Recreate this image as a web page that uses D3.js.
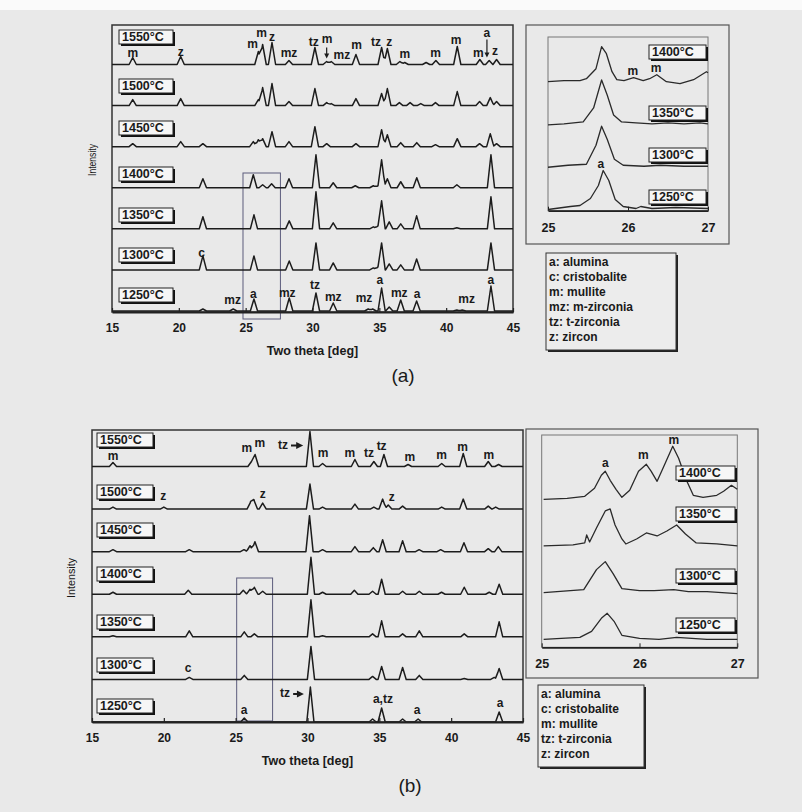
<!DOCTYPE html>
<html>
<head>
<meta charset="utf-8">
<script src="https://cdn.jsdelivr.net/npm/d3@7"></script>
<style>
  body { margin: 0; background: #e9e9e9; }
  text { font-family: "Liberation Sans", Arial, sans-serif; fill: #1a1a1a; }
</style>
</head>
<body>
<script>
//Temperatures, top to bottom
var temps = ["1550°C", "1500°C", "1450°C", "1400°C", "1350°C", "1300°C", "1250°C"];
var insetTemps = ["1400°C", "1350°C", "1300°C", "1250°C"];
var xTicks = [15, 20, 25, 30, 35, 40, 45];
var insetTicks = [25, 26, 27];
var legendA = ["a: alumina", "c: cristobalite", "m: mullite", "mz: m-zirconia", "tz: t-zirconia", "z: zircon"];
var legendB = ["a: alumina", "c: cristobalite", "m: mullite", "tz: t-zirconia", "z: zircon"];

//(a) peaks: [two theta, intensity]
var a1550 = [[16.55,7],[20.14,8],[25.95,13],[26.27,20],[26.97,22],[28.24,4],[30.18,17],[31.06,3],[31.4,3],[33.25,10],[35.17,17],[35.6,16],[36.54,3],[36.9,2],[38.5,2],[39.23,4],[40.83,18],[42.52,5],[43.22,4],[43.77,5]];
var a1500 = [[16.55,6],[20.14,7],[25.95,6],[26.27,18],[26.97,22],[28.24,4],[30.18,17],[31.06,3],[31.4,2],[33.25,7],[35.17,12],[35.6,17],[36.5,3],[37.3,3],[38.1,2],[39.2,3],[40.83,14],[42.5,4],[43.3,8],[43.77,4]];
var a1450 = [[16.55,3],[20.14,5],[21.8,3],[25.57,5],[25.95,7],[26.27,8],[26.97,15],[28.24,5],[30.18,20],[31.06,3],[33.25,3],[35.17,17],[35.6,12],[36.6,4],[37.8,4],[39.2,2],[40.83,8],[42.5,3],[43.3,13],[43.77,3]];
var a1400 = [[21.8,9],[25.57,13],[26.27,3],[26.94,4],[28.24,9],[30.26,33],[31.55,5],[33.2,2],[34.55,2],[34.9,2],[35.17,28],[35.6,9],[36.6,6],[37.8,10],[40.8,3],[43.35,33]];
var a1350 = [[21.8,12],[25.62,14],[28.26,8],[30.26,37],[31.55,6],[34.55,2],[34.9,3],[35.17,28],[35.74,7],[36.6,5],[37.79,13],[40.8,1],[43.35,32]];
var a1300 = [[21.8,14],[25.62,14],[28.26,9],[30.26,27],[31.55,7],[34.55,2],[34.9,3],[35.17,27],[35.74,6],[36.6,5],[37.79,11],[43.35,27]];
var a1250 = [[21.8,2],[24.07,2],[25.62,12],[28.26,13],[30.26,18],[31.55,8],[34.17,2],[34.5,2],[35.17,23],[35.74,4],[36.6,11],[37.79,10],[40.8,1],[41.2,1],[43.35,25]];
var peaksA = [a1550, a1500, a1450, a1400, a1350, a1300, a1250];

//(b) peaks
var b1550 = [[16.46,4],[26.1,5],[26.35,12],[30.17,35],[31.05,3],[33.3,7],[34.62,5],[35.32,12],[37.0,2],[39.34,3],[40.84,13],[42.58,5],[43.3,2]];
var b1500 = [[16.46,2],[20.0,2],[26.04,7],[26.27,9],[26.88,6],[30.17,25],[31.05,2],[33.3,5],[34.62,2],[35.23,10],[35.62,4],[36.62,3],[39.34,2],[40.84,10],[42.58,3],[43.1,2]];
var b1450 = [[16.46,2],[21.77,2],[25.58,2],[26.0,6],[26.34,10],[30.14,36],[31.05,2],[33.3,5],[34.58,4],[35.23,12],[36.62,11],[37.77,2],[39.27,2],[40.89,9],[42.58,3],[43.28,5]];
var b1400 = [[16.46,2],[21.7,4],[25.53,4],[26.0,5],[26.3,7],[26.88,3],[30.24,37],[31.05,2],[33.26,4],[34.53,3],[35.16,15],[36.62,3],[37.78,3],[39.33,2],[40.91,7],[42.65,2],[43.34,10]];
var b1350 = [[16.46,1],[21.77,6],[25.6,5],[26.3,3],[30.24,37],[31.05,1],[34.53,3],[35.16,16],[36.62,3],[37.78,6],[40.91,3],[43.34,15]];
var b1300 = [[21.77,2],[25.6,4],[30.24,33],[34.53,3],[35.16,13],[36.62,12],[37.78,4],[40.91,1],[43.0,2],[43.34,11]];
var b1250 = [[25.6,4],[30.2,35],[34.53,3],[35.16,14],[36.62,3],[37.7,3],[43.34,10]];
var peaksB = [b1550, b1500, b1450, b1400, b1350, b1300, b1250];

//peak labels: [two theta, text, height of text]
var labA = {
  "1550°C": [[16.55,"m",8],[20.14,"z",9],[25.52,"m",17],[26.2,"m",28],[26.97,"z",24],[28.24,"mz",8],[30.1,"tz",19],[31.1,"m",22],[32.2,"mz",6],[33.3,"m",16],[34.75,"tz",19],[35.75,"z",19],[36.9,"m",7],[39.2,"m",8],[40.75,"m",21],[42.4,"m",8],[43.05,"a",28],[43.65,"z",10]],
  "1300°C": [[21.71,"c",13]],
  "1250°C": [[24.03,"mz",7],[25.57,"a",13],[28.11,"mz",14],[30.18,"tz",22],[31.55,"mz",10],[33.85,"mz",9],[35.04,"a",27],[36.49,"mz",14],[37.83,"a",13],[41.53,"mz",8],[43.35,"a",27]]
};
var labB = {
  "1550°C": [[16.46,"m",7],[25.77,"m",15],[26.69,"m",20],[28.3,"tz",18],[31.08,"m",10],[32.95,"m",10],[34.28,"tz",10],[35.16,"tz",17],[37.13,"m",6],[39.34,"m",8],[40.8,"m",16],[42.63,"m",8]],
  "1500°C": [[19.96,"z",9],[26.88,"z",11],[35.86,"z",8]],
  "1300°C": [[21.68,"c",7]],
  "1250°C": [[25.58,"a",8],[28.43,"tz",25],[35.25,"a,tz",19],[37.62,"a",8],[43.4,"a",15]]
};
//arrows: [row, two theta, from, to]
var downArrowsA = [["1550°C", 31.06, 17, 6], ["1550°C", 43.05, 25, 7]];
var rightArrowsB = [["1550°C", 28.85, 29.7, 21], ["1250°C", 29.0, 29.75, 28]];

//insets: [two theta, intensity]
var ia1400 = [[25,0],[25.2,1],[25.4,1],[25.48,3],[25.6,13],[25.67,35],[25.73,28],[25.8,10],[25.86,2],[25.95,1],[26.07,4],[26.19,1],[26.27,3],[26.36,7],[26.48,0],[26.65,-2],[26.82,2],[26.92,7],[26.98,10],[27,9]];
var ia1350 = [[25,-1],[25.2,0],[25.44,2],[25.57,16],[25.67,44],[25.74,29],[25.82,9],[25.92,2],[26.1,1],[26.3,0],[26.5,1],[26.7,0],[26.9,1],[27,0]];
var ia1300 = [[25,-1],[25.25,1],[25.48,2],[25.6,21],[25.67,40],[25.74,27],[25.83,7],[25.94,1],[26.2,0],[26.4,1],[26.7,0],[27,0]];
var ia1250 = [[25,-1],[25.28,2],[25.4,3],[25.53,10],[25.63,23],[25.69,38],[25.76,28],[25.84,9],[25.94,2],[26.1,0],[26.16,2],[26.3,0],[26.6,1],[27,0]];
var insetA = [ia1400, ia1350, ia1300, ia1250];
var ib1400 = [[25.02,0],[25.26,1],[25.44,3],[25.54,11],[25.61,24],[25.65,28],[25.7,19],[25.76,10],[25.82,2],[25.9,9],[25.99,28],[26.07,35],[26.12,28],[26.18,18],[26.24,31],[26.34,53],[26.4,41],[26.48,19],[26.55,4],[26.65,2],[26.79,4],[26.86,8],[26.94,14],[27,10]];
var ib1350 = [[25.02,0],[25.32,1],[25.44,3],[25.46,11],[25.49,4],[25.56,18],[25.65,35],[25.7,37],[25.75,21],[25.82,7],[25.86,2],[25.97,7],[26.07,13],[26.18,10],[26.28,15],[26.38,21],[26.47,12],[26.58,3],[26.79,2],[27,0]];
var ib1300 = [[25.02,0],[25.43,3],[25.56,23],[25.65,31],[25.73,19],[25.82,4],[26.0,2],[26.15,2],[26.35,3],[26.5,1],[26.69,1],[27,-1]];
var ib1250 = [[25.02,0],[25.2,1],[25.39,2],[25.51,8],[25.61,21],[25.67,26],[25.74,18],[25.82,4],[26.0,1],[26.2,0],[26.38,2],[26.69,0],[27,0]];
var insetB = [ib1400, ib1350, ib1300, ib1250];
var insetLabA = [["1400°C",26.06,"m",7],["1400°C",26.35,"m",10],["1250°C",25.66,"a",41]];
var insetLabB = [["1400°C",25.65,"a",32],["1400°C",26.04,"m",40],["1400°C",26.35,"m",55]];

//layout
var W = 802, H = 812;
var svg = d3.select("body").append("svg").attr("width", W).attr("height", H);
svg.append("rect").attr("width", W).attr("height", 10).attr("fill", "#fafafa");

//turn a peak list into points (sum of triangles)
function profile(peaks, hw) {
  var xs = [15, 45];
  peaks.forEach(function (p) {
    xs.push(p[0] - hw, p[0], p[0] + hw);
  });
  xs = xs.filter(function (x) { return x >= 15 && x <= 45; }).sort(d3.ascending);
  return xs.map(function (x) {
    return [x, d3.sum(peaks, function (p) {
      return Math.max(0, p[1] * (1 - Math.abs(x - p[0]) / hw));
    })];
  });
}

function tempBox(g, x, y, w, h, label) {
  g.append("rect").attr("x", x + 2).attr("y", y + 2).attr("width", w).attr("height", h).attr("fill", "#111");
  g.append("rect").attr("x", x).attr("y", y).attr("width", w).attr("height", h)
    .attr("fill", "#f6f6f6").attr("stroke", "#222").attr("stroke-width", 1);
  g.append("text").attr("x", x + 3).attr("y", y + h - 3)
    .attr("font-size", "12.5px").attr("font-weight", "bold").text(label);
}

function mainPanel(cfg) {
  var x = d3.scaleLinear().domain([15, 45]).range(cfg.xr);
  var row = d3.scalePoint().domain(temps).range(cfg.rows);
  var g = svg.append("g");

  g.append("rect").attr("x", cfg.xr[0]).attr("y", cfg.top)
    .attr("width", cfg.xr[1] - cfg.xr[0]).attr("height", cfg.bottom - cfg.top)
    .attr("fill", "none").attr("stroke", "#333").attr("stroke-width", 1.5);

  //zoom window
  g.append("rect").attr("x", x(cfg.zoom[0])).attr("y", cfg.zoomY[0])
    .attr("width", x(cfg.zoom[1]) - x(cfg.zoom[0])).attr("height", cfg.zoomY[1] - cfg.zoomY[0])
    .attr("fill", "none").attr("stroke", "#5c5c7c").attr("stroke-width", 1);

  temps.forEach(function (t, i) {
    var base = row(t);
    var line = d3.line()
      .x(function (d) { return x(d[0]); })
      .y(function (d) { return base - d[1]; });
    g.append("path").datum(profile(cfg.peaks[i], cfg.hw)).attr("d", line)
      .attr("fill", "none").attr("stroke", "#1c1c1c").attr("stroke-width", 1.5)
      .attr("stroke-linejoin", "round");
    tempBox(g, cfg.boxX, cfg.boxTop[i], cfg.boxW, 14, t);
    (cfg.labels[t] || []).forEach(function (l) {
      g.append("text").attr("x", x(l[0])).attr("y", base - l[2])
        .attr("text-anchor", "middle").attr("font-size", "12px").attr("font-weight", "bold")
        .text(l[1]);
    });
  });

  cfg.down.forEach(function (a) {
    var base = row(a[0]), ax = x(a[1]);
    g.append("line").attr("x1", ax).attr("x2", ax).attr("y1", base - a[2]).attr("y2", base - a[3] - 4)
      .attr("stroke", "#1c1c1c").attr("stroke-width", 1.2);
    g.append("path").attr("d", "M" + (ax - 2.5) + "," + (base - a[3] - 5) + "L" + (ax + 2.5) + "," + (base - a[3] - 5) + "L" + ax + "," + (base - a[3]) + "Z")
      .attr("fill", "#1c1c1c");
  });
  cfg.right.forEach(function (a) {
    var base = row(a[0]), y = base - a[3];
    g.append("line").attr("x1", x(a[1])).attr("x2", x(a[2]) - 5).attr("y1", y).attr("y2", y)
      .attr("stroke", "#1c1c1c").attr("stroke-width", 2);
    g.append("path").attr("d", "M" + (x(a[2]) - 7) + "," + (y - 3.5) + "L" + x(a[2]) + "," + y + "L" + (x(a[2]) - 7) + "," + (y + 3.5) + "Z")
      .attr("fill", "#1c1c1c");
  });

  var axis = g.append("g").attr("transform", "translate(0," + cfg.bottom + ")")
    .call(d3.axisBottom(x).tickValues(xTicks).tickFormat(d3.format("d")).tickSize(-4).tickSizeOuter(0).tickPadding(11));
  axis.select(".domain").attr("stroke", "#222").attr("stroke-width", 1.8);
  axis.selectAll(".tick line").attr("stroke", "#222").attr("stroke-width", 1.2);
  axis.selectAll("text").attr("font-size", "12px").attr("font-weight", "bold")
    .attr("font-family", "Liberation Sans, Arial, sans-serif").attr("fill", "#1a1a1a");

  g.append("text").attr("x", (cfg.xr[0] + cfg.xr[1]) / 2).attr("y", cfg.bottom + 43)
    .attr("text-anchor", "middle").attr("font-size", "12.5px").attr("font-weight", "bold")
    .text("Two theta [deg]");
  g.append("text").attr("transform", "translate(" + cfg.ylab[0] + "," + cfg.ylab[1] + ") rotate(-90)")
    .attr("text-anchor", "middle").attr("font-size", "11px")
    .attr("textLength", cfg.ylab[2]).attr("lengthAdjust", "spacingAndGlyphs").text("Intensity");
  g.append("text").attr("x", cfg.tag[0]).attr("y", cfg.tag[1]).attr("text-anchor", "middle")
    .attr("font-size", "19px").text(cfg.tag[2]);
}

function insetPanel(cfg) {
  var x = d3.scaleLinear().domain([25, 27]).range(cfg.xr);
  var row = d3.scalePoint().domain(insetTemps).range(cfg.rows);
  var g = svg.append("g");
  g.append("rect").attr("x", cfg.outer[0]).attr("y", cfg.outer[1])
    .attr("width", cfg.outer[2] - cfg.outer[0]).attr("height", cfg.outer[3] - cfg.outer[1])
    .attr("fill", "none").attr("stroke", "#555").attr("stroke-width", 1.2);
  g.append("rect").attr("x", cfg.xr[0]).attr("y", cfg.top)
    .attr("width", cfg.xr[1] - cfg.xr[0]).attr("height", cfg.bottom - cfg.top)
    .attr("fill", "none").attr("stroke", "#777").attr("stroke-width", 1);

  insetTemps.forEach(function (t, i) {
    var base = row(t);
    var line = d3.line()
      .x(function (d) { return x(d[0]); })
      .y(function (d) { return base - d[1]; });
    g.append("path").datum(cfg.data[i]).attr("d", line)
      .attr("fill", "none").attr("stroke", "#2a2a2a").attr("stroke-width", 1.3)
      .attr("stroke-linejoin", "round");
    tempBox(g, cfg.boxX, cfg.boxTop[i], cfg.boxW, 14, t);
  });
  cfg.labels.forEach(function (l) {
    g.append("text").attr("x", x(l[1])).attr("y", row(l[0]) - l[3])
      .attr("text-anchor", "middle").attr("font-size", "12px").attr("font-weight", "bold").text(l[2]);
  });

  var axis = g.append("g").attr("transform", "translate(0," + cfg.bottom + ")")
    .call(d3.axisBottom(x).tickValues(insetTicks).tickFormat(d3.format("d")).tickSize(-4).tickSizeOuter(0).tickPadding(12));
  axis.select(".domain").attr("stroke", "#222").attr("stroke-width", 1.8);
  axis.selectAll(".tick line").attr("stroke", "#222");
  axis.selectAll("text").attr("font-size", "12.5px").attr("font-weight", "bold")
    .attr("font-family", "Liberation Sans, Arial, sans-serif").attr("fill", "#1a1a1a");
}

function legendBox(items, x, y, w, h) {
  var g = svg.append("g");
  g.append("rect").attr("x", x + 2).attr("y", y + 2).attr("width", w).attr("height", h).attr("fill", "#222");
  g.append("rect").attr("x", x).attr("y", y).attr("width", w).attr("height", h)
    .attr("fill", "#ececec").attr("stroke", "#333");
  g.selectAll("text.leg").data(items).enter().append("text")
    .attr("x", x + 3).attr("y", function (d, i) { return y + 13 + i * 15; })
    .attr("font-size", "12px").attr("font-weight", "bold").text(function (d) { return d; });
}

mainPanel({
  xr: [112, 513], rows: [64.5, 311], top: 25, bottom: 312, hw: 0.27,
  peaks: peaksA, labels: labA, down: downArrowsA, right: [],
  boxX: 119, boxW: 54, boxTop: [30, 79, 121, 167, 208, 248, 288],
  zoom: [24.8, 27.6], zoomY: [173, 319],
  ylab: [96, 160, 32], tag: [403, 382, "(a)"]
});
mainPanel({
  xr: [92, 523], rows: [466.5, 722], top: 430, bottom: 722, hw: 0.25,
  peaks: peaksB, labels: labB, down: [], right: rightArrowsB,
  boxX: 97, boxW: 56, boxTop: [433, 485, 523, 567, 615, 658, 699],
  zoom: [25.07, 27.57], zoomY: [578, 721],
  ylab: [75, 578, 40], tag: [410, 792, "(b)"]
});

insetPanel({
  xr: [548, 708], rows: [81.7, 208.5], top: 37, bottom: 210.7,
  outer: [526, 25, 729, 244], data: insetA, labels: insetLabA,
  boxX: 649, boxW: 57, boxTop: [45, 106, 148, 190]
});
insetPanel({
  xr: [541.7, 737.3], rows: [499.3, 639.3], top: 435, bottom: 647.3,
  outer: [526, 429, 758, 678], data: insetB, labels: insetLabB,
  boxX: 676, boxW: 59, boxTop: [466, 507, 569, 618]
});

legendBox(legendA, 546, 253, 130, 97);
legendBox(legendB, 538, 685, 106, 82);
</script>
</body>
</html>
